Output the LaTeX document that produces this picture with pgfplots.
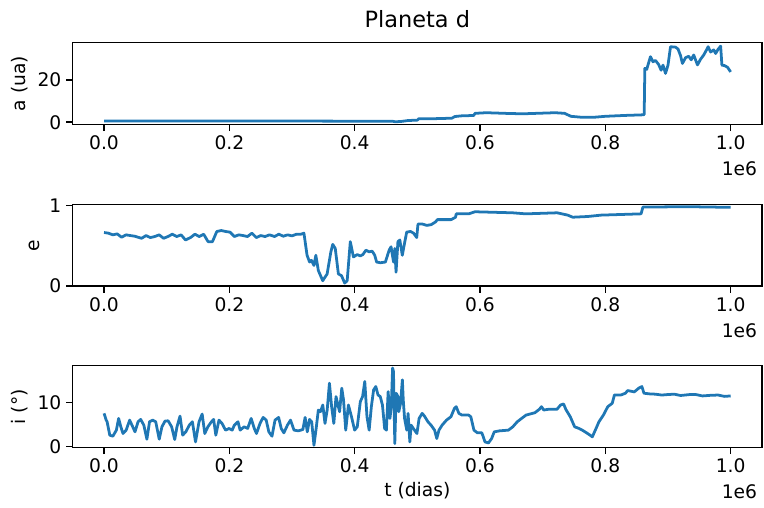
\documentclass[border=0pt]{standalone}
\usepackage{fontspec}
\setmainfont{DejaVu Sans}
\usepackage{pgfplots}
\pgfplotsset{compat=1.18}
\definecolor{mplblue}{HTML}{1F77B4}

\tikzset{offlab/.style={anchor=base east, font=\fontsize{13.5}{16}\selectfont, yshift=-37pt}}
\pgfplotsset{
  panel/.style={
    scale only axis, width=498.16pt, height=59.2pt,
    xmin=-50, xmax=1050,
    xtick={0,200,400,600,800,1000},
    xticklabels={0.0,0.2,0.4,0.6,0.8,1.0},
    tick align=outside, tick pos=left,
    major tick length=4.7pt,
    every tick/.style={black, line width=1.1pt},
    axis line style={line width=1.1pt},
    tick label style={font=\fontsize{13.5}{16}\selectfont},
    label style={font=\fontsize{13.5}{16}\selectfont},
    /pgf/number format/assume math mode=true,
    clip mode=individual,
  },
  serie/.style={mplblue, line width=2pt, line join=round, mark=none},
}

\begin{document}
\begin{tikzpicture}
\useasboundingbox (0,0) rectangle (552.14pt,-367.13pt);

% painel a
\begin{axis}[panel, at={(52.54pt,-30.86pt)}, anchor=north west,
  ymin=-1.13, ymax=37.6, ytick={0,20}, ylabel={a (ua)},
  title={Planeta d}, title style={font=\fontsize{16.2}{19}\selectfont, yshift=1pt}]
\addplot[serie] coordinates {
(0,0.6) (100,0.6) (200,0.6) (300,0.55) (400,0.5) (460,0.5) (465,0.2) (475,0.4) (485,0.8)
(500,1.0) (502,1.6) (530,1.7) (555,1.9) (560,2.7) (570,3.0) (590,3.2) (592,4.2) (610,4.5)
(630,4.3) (650,4.1) (670,4.0) (690,4.2) (720,4.5) (735,4.2) (745,2.8) (760,2.4) (780,2.3)
(800,2.8) (830,3.2) (860,3.5) (862,3.7)
(863,25.5) (866,25.0) (868,27) (872,31) (876,28.6) (880,29.2) (885,27.3) (889,24.6) (892,27)
(896,23.1) (900,27) (904,35.7) (912,35.5) (916,34.6) (920,31.5) (923,27.8) (928,30.5)
(933,31.2) (937,29.5) (941,31.8) (947,27.1) (952,29.8) (957,31.8) (962,34.5) (964,35.7)
(968,33.2) (973,34.2) (976,32.5) (980,34.5) (984,36.0) (986,27) (990,26.8) (995,26)
(1000,23.8)
};
\node[offlab] at (rel axis cs:1,0) {1e6};
\end{axis}

% painel e
\begin{axis}[panel, at={(52.54pt,-147.65pt)}, anchor=north west,
  ymin=-0.005, ymax=1.017, ytick={0,1}, ylabel={e}]
\addplot[serie] coordinates {
(0,.665) (7,.657) (14,.636) (21,.648) (28,.606) (35,.636) (42,.627) (49,.619) (56,.602)
(60,.593) (67,.627) (74,.602) (81,.615) (88,.636) (95,.593) (102,.615) (109,.644) (116,.615)
(123,.636) (130,.572) (138,.602) (145,.644) (152,.615) (159,.644) (166,.551) (173,.551)
(180,.678) (187,.690) (194,.678) (201,.670) (208,.615) (215,.636) (222,.627) (229,.615)
(236,.657) (243,.602) (250,.627) (257,.615) (264,.636) (272,.615) (279,.644) (286,.619)
(293,.636) (300,.623) (307,.644) (314,.644) (319,.657)
(324,.381) (328,.297) (331,.318) (335,.254) (338,.381) (342,.191) (349,.064) (356,.148)
(362,.424) (365,.517) (369,.466) (374,.148) (379,.127) (384,.034) (388,.064) (393,.551)
(398,.360) (404,.390) (409,.373) (413,.390) (418,.445) (423,.424) (428,.432) (432,.381)
(435,.297) (441,.288) (449,.297) (455,.445) (458,.487) (462,.297) (464,.466) (466,.170)
(469,.551) (472,.572) (476,.381) (480,.551) (483,.670) (489,.678) (494,.657) (499,.602)
(501,.771) (508,.771) (515,.754) (522,.763) (529,.797) (532,.826) (554,.826) (561,.856)
(562,.898) (582,.898) (592,.924) (652,.911) (673,.898) (723,.911) (740,.882) (748,.856)
(772,.865) (793,.882) (857,.898) (860,.983) (934,.987) (1000,.979)
};
\node[offlab] at (rel axis cs:1,0) {1e6};
\end{axis}

% painel i
\begin{axis}[panel, at={(52.54pt,-264.29pt)}, anchor=north west,
  ymin=-0.3, ymax=18.4, ytick={0,10}, ylabel={i (°)}, xlabel={t (dias)}]
\addplot[serie] coordinates {
(0,7.52) (3.5,5.98) (4.9,5.60) (9.2,2.54) (14.1,2.31) (19.7,3.69) (23.3,6.37) (26.8,4.45)
(30.3,2.92) (35.3,3.69) (40.9,5.98) (45.8,4.45) (49.4,3.30) (54.3,5.60) (58.5,6.14)
(63.5,4.83) (68.4,1.62) (72.6,5.60) (77.6,5.98) (82.5,5.60) (88.1,1.62) (92.4,4.45)
(97.3,5.75) (102.3,5.83) (107.9,4.45) (112.8,1.54) (116.4,4.45) (121.3,6.90) (125.5,2.54)
(130.5,3.30) (136.1,4.83) (141.0,5.60) (146.0,1.00) (151.6,5.60) (156.6,7.36) (160.8,2.92)
(165.7,4.45) (171.4,5.60) (174.9,6.14) (178.4,2.54) (183.4,5.98) (188.3,5.22) (193.9,3.69)
(199.6,4.07) (204.5,3.69) (208.0,4.83) (213.7,5.60) (217.2,3.69) (223.6,4.45) (229.2,4.07)
(234.8,6.37) (239.8,4.07) (243.3,2.92) (248.9,5.22) (253.9,6.60) (258.8,5.98) (263.0,3.30)
(268.0,2.31) (272.9,5.98) (278.6,6.60) (282.8,4.07) (287.0,3.07) (292.7,4.83) (297.6,5.98)
(303.2,3.69) (310.3,3.53) (317.3,3.84) (320.9,6.60) (324.4,3.30) (327.9,6.14) (331.4,5.60)
(335.0,0.23) (338.5,4.07) (342.0,8.28) (345.5,7.90) (349.1,9.43) (352.6,5.22) (356.1,8.28)
(359.7,14.41) (363.2,9.05) (366.7,5.22) (370.2,11.35) (375.9,7.90) (379.4,13.27)
(382.2,10.58) (385.7,3.69) (390.0,9.43) (394.9,6.75) (399.9,3.69) (404.1,4.45) (409.0,10.20)
(412.6,11.35) (416.1,14.80) (419.6,6.75) (423.1,3.69) (426.6,9.05) (430.2,12.88)
(433.7,13.65) (437.2,11.73) (440.8,11.35) (444.3,9.43) (447.8,4.07) (450.6,3.69)
(453.4,12.50) (456.3,6.37) (458.4,9.05) (460.5,17.86) (461.9,17.10) (464.0,0.61)
(466.2,12.12) (469.0,11.35) (470.4,7.90) (473.2,9.82) (476.1,15.18) (477.5,10.58)
(479.6,6.37) (483.1,3.69) (485.2,7.52) (488.0,1.00) (490.1,4.83) (493.6,4.07) (499.3,2.92)
(502.8,6.37) (507.7,7.52) (511.3,6.90) (516.9,5.60) (521.8,4.83) (527.5,3.69) (531.0,1.77)
(534.5,3.69) (539.5,4.83) (546.5,5.98) (553.6,6.75) (559.2,8.67) (562.0,9.05) (566.3,7.52)
(571.2,7.13) (581.8,7.13) (585.3,6.75) (590.3,3.69) (595.9,3.07) (603.0,3.07) (607.9,1.00)
(613.5,0.77) (618.5,1.77) (622.7,3.30) (631.2,3.53) (645.3,3.69) (652.3,4.45) (659.4,5.60)
(666.4,6.37) (673.5,7.13) (687.6,7.67) (694.6,8.44) (698.1,9.05) (701.7,8.28) (708.7,8.44)
(722.8,8.44) (728.5,9.43) (733.4,9.66) (736.9,8.44) (744.0,6.75) (751.0,4.45) (758.1,4.07)
(765.1,3.53) (775.7,2.54) (779.2,2.15) (786.3,4.45) (789.8,5.60) (796.9,7.13) (803.9,9.05)
(811.0,9.82) (814.5,11.73) (825.1,11.73) (832.1,12.12) (835.6,12.73) (846.2,12.42)
(853.3,13.27) (858.2,13.65) (861.7,12.12) (870.9,11.96) (880,11.9) (890,11.7) (899.1,11.81)
(910,11.9) (920,11.6) (934.4,11.81) (945,11.8) (955,11.5) (969.7,11.66) (980,11.7)
(990,11.4) (1000,11.50)
};
\node[offlab] at (rel axis cs:1,0) {1e6};
\end{axis}
\end{tikzpicture}
\end{document}
